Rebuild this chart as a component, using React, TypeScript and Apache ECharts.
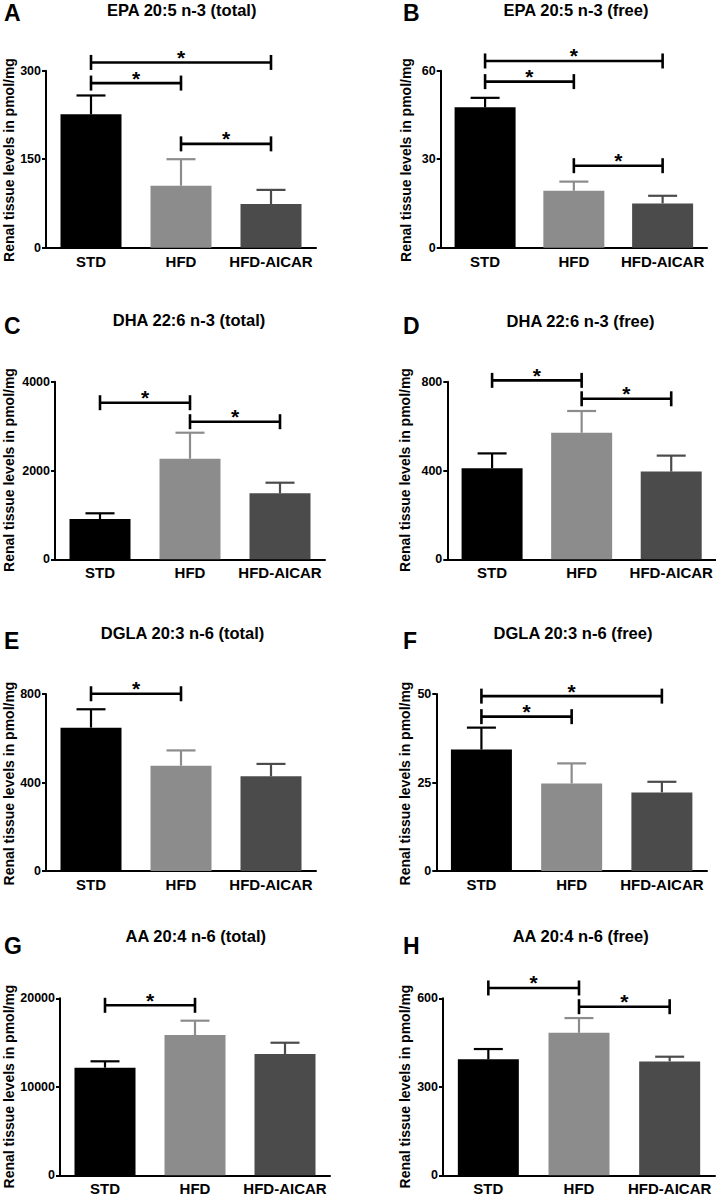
import React, { useEffect, useRef } from 'react';
import * as echarts from 'echarts';

const FONT = '"Liberation Sans", Arial, Helvetica, sans-serif';

const categories = ['STD', 'HFD', 'HFD-AICAR'];
const barColors = ['#000000', '#8c8c8c', '#4b4b4b'];

const panelLetters = ['A', 'B', 'C', 'D', 'E', 'F', 'G', 'H'];
const panelTitles = [
  'EPA 20:5 n-3 (total)',
  'EPA 20:5 n-3 (free)',
  'DHA 22:6 n-3 (total)',
  'DHA 22:6 n-3 (free)',
  'DGLA 20:3 n-6 (total)',
  'DGLA 20:3 n-6 (free)',
  'AA 20:4 n-6 (total)',
  'AA 20:4 n-6 (free)',
];
const yAxisName = 'Renal tissue levels in pmol/mg';
const yMaxes = [300, 60, 4000, 800, 800, 50, 20000, 600];
const yIntervals = [150, 30, 2000, 400, 400, 25, 10000, 300];

// means and upper error (SEM) per group: STD, HFD, HFD-AICAR
const epaTotalMean = [226, 105, 74];
const epaTotalErr = [32, 45, 24];
const epaFreeMean = [47.6, 19.3, 15.0];
const epaFreeErr = [3.2, 3.1, 2.6];
const dhaTotalMean = [908, 2266, 1486];
const dhaTotalErr = [128, 585, 239];
const dhaFreeMean = [410, 570, 395];
const dhaFreeErr = [67, 98, 72];
const dglaTotalMean = [648, 476, 428];
const dglaTotalErr = [83, 69, 56];
const dglaFreeMean = [34.3, 24.7, 22.2];
const dglaFreeErr = [6.2, 5.7, 3.0];
const aaTotalMean = [12160, 15850, 13710];
const aaTotalErr = [720, 1620, 1270];
const aaFreeMean = [393, 483, 386];
const aaFreeErr = [35, 50, 16];

// significance brackets: [fromIndex, toIndex, yValue]
const epaTotalSig = [[0, 2, 314], [0, 1, 279], [1, 2, 176]];
const epaFreeSig = [[0, 2, 63.3], [0, 1, 56.3], [1, 2, 27.8]];
const dhaTotalSig = [[0, 1, 3527], [1, 2, 3099]];
const dhaFreeSig = [[0, 1, 806], [1, 2, 723]];
const dglaTotalSig = [[0, 1, 801]];
const dglaFreeSig = [[0, 2, 49.4], [0, 1, 43.6]];
const aaTotalSig = [[0, 1, 19209]];
const aaFreeSig = [[0, 1, 635], [1, 2, 571.5]];

const means = [epaTotalMean, epaFreeMean, dhaTotalMean, dhaFreeMean, dglaTotalMean, dglaFreeMean, aaTotalMean, aaFreeMean];
const errs = [epaTotalErr, epaFreeErr, dhaTotalErr, dhaFreeErr, dglaTotalErr, dglaFreeErr, aaTotalErr, aaFreeErr];
const sigs = [epaTotalSig, epaFreeSig, dhaTotalSig, dhaFreeSig, dglaTotalSig, dglaFreeSig, aaTotalSig, aaFreeSig];

// layout (pixels)
const layout = [
  { left: 46, top: 70.7, width: 270, height: 177, tx: 181.7, ty: 9.7, lx: 4, ly: 12.5, nx: 9, ny: 160 },
  { left: 440.7, top: 70.7, width: 266.3, height: 177, tx: 576, ty: 9.7, lx: 403, ly: 12.5, nx: 405.5, ny: 160 },
  { left: 55, top: 381.7, width: 270, height: 177.6, tx: 189, ty: 320, lx: 4, ly: 326, nx: 9, ny: 470 },
  { left: 447.3, top: 381.7, width: 268.7, height: 177.6, tx: 580.5, ty: 320.7, lx: 403, ly: 326, nx: 405, ny: 470 },
  { left: 46, top: 694, width: 270, height: 177, tx: 182.5, ty: 632.5, lx: 4, ly: 641, nx: 9, ny: 783.5 },
  { left: 436.3, top: 694, width: 270.7, height: 177, tx: 573, ty: 632.5, lx: 403, ly: 641, nx: 404.7, ny: 783.5 },
  { left: 60, top: 998.3, width: 270, height: 177, tx: 195.8, ty: 935.8, lx: 4, ly: 946, nx: 9, ny: 1086.5 },
  { left: 443, top: 998.3, width: 272, height: 177, tx: 580.7, ty: 935.8, lx: 403, ly: 946, nx: 405, ny: 1086.5 },
];

function buildOption() {
  const grid: any[] = [];
  const xAxis: any[] = [];
  const yAxis: any[] = [];
  const series: any[] = [];
  const graphic: any[] = [];

  layout.forEach((l, i) => {
    grid.push({ left: l.left, top: l.top, width: l.width, height: l.height });
    xAxis.push({
      gridIndex: i,
      type: 'category',
      data: categories,
      axisLine: { lineStyle: { color: '#000', width: 2 } },
      axisTick: { alignWithLabel: true, length: 4, lineStyle: { color: '#000', width: 2 } },
      axisLabel: {
        color: '#000',
        fontWeight: 'bold',
        fontSize: 15,
        fontFamily: FONT,
        margin: 6,
        interval: 0,
        hideOverlap: false,
      },
    });
    yAxis.push({
      gridIndex: i,
      type: 'value',
      min: 0,
      max: yMaxes[i],
      interval: yIntervals[i],
      axisLine: { show: true, lineStyle: { color: '#000', width: 2 } },
      axisTick: { show: true, length: 4, lineStyle: { color: '#000', width: 2 } },
      splitLine: { show: false },
      axisLabel: {
        color: '#000',
        fontWeight: 'bold',
        fontSize: 12.5,
        fontFamily: FONT,
        margin: 5,
        formatter: (v: number) => String(v),
      },
    });
    series.push({
      type: 'bar',
      xAxisIndex: i,
      yAxisIndex: i,
      barWidth: 61,
      data: means[i].map((v, j) => ({ value: v, itemStyle: { color: barColors[j] } })),
      z: 2,
    });
    series.push({
      type: 'custom',
      xAxisIndex: i,
      yAxisIndex: i,
      z: 3,
      data: means[i].map((v, j) => [j, v, errs[i][j]]),
      renderItem: (params: any, api: any) => {
        const idx = api.value(0);
        const m = api.value(1);
        const e = api.value(2);
        const p0 = api.coord([idx, m]);
        const p1 = api.coord([idx, m + e]);
        const color = barColors[params.dataIndex];
        return {
          type: 'group',
          children: [
            { type: 'line', shape: { x1: p0[0], y1: p0[1], x2: p1[0], y2: p1[1] }, style: { stroke: color, lineWidth: 2.2 } },
            { type: 'line', shape: { x1: p1[0] - 14.5, y1: p1[1], x2: p1[0] + 14.5, y2: p1[1] }, style: { stroke: color, lineWidth: 2.2 } },
          ],
        };
      },
    });
    series.push({
      type: 'custom',
      xAxisIndex: i,
      yAxisIndex: i,
      z: 4,
      encode: { x: 0, y: 2 },
      data: sigs[i],
      renderItem: (params: any, api: any) => {
        const a = api.coord([api.value(0), api.value(2)]);
        const b = api.coord([api.value(1), api.value(2)]);
        const st = { stroke: '#000', lineWidth: 2.6 };
        return {
          type: 'group',
          children: [
            { type: 'line', shape: { x1: a[0], y1: a[1], x2: b[0], y2: b[1] }, style: st },
            { type: 'line', shape: { x1: a[0], y1: a[1] - 7.5, x2: a[0], y2: a[1] + 7.5 }, style: st },
            { type: 'line', shape: { x1: b[0], y1: b[1] - 7.5, x2: b[0], y2: b[1] + 7.5 }, style: st },
            {
              type: 'text',
              x: (a[0] + b[0]) / 2,
              y: a[1] - 5,
              style: {
                text: '*',
                textAlign: 'center',
                textVerticalAlign: 'middle',
                fontSize: 21,
                fontWeight: 'bold',
                fontFamily: FONT,
                fill: '#000',
              },
            },
          ],
        };
      },
    });

    graphic.push({
      type: 'text',
      x: l.tx,
      y: l.ty,
      style: { text: panelTitles[i], textAlign: 'center', textVerticalAlign: 'middle', fontSize: 16.5, fontWeight: 'bold', fontFamily: FONT, fill: '#000' },
    });
    graphic.push({
      type: 'text',
      x: l.lx,
      y: l.ly,
      style: { text: panelLetters[i], textAlign: 'left', textVerticalAlign: 'middle', fontSize: 23, fontWeight: 'bold', fontFamily: FONT, fill: '#000' },
    });
    graphic.push({
      type: 'text',
      x: l.nx,
      y: l.ny,
      rotation: Math.PI / 2,
      style: { text: yAxisName, textAlign: 'center', textVerticalAlign: 'middle', fontSize: 14, fontWeight: 'bold', fontFamily: FONT, fill: '#000' },
    });
  });

  return {
    animation: false,
    backgroundColor: '#ffffff',
    grid,
    xAxis,
    yAxis,
    series,
    graphic,
  };
}

export default function App() {
  const ref = useRef<HTMLDivElement>(null);
  useEffect(() => {
    document.body.style.margin = '0';
    if (!ref.current) return;
    const chart = echarts.init(ref.current, undefined, { renderer: 'svg' });
    chart.setOption(buildOption() as any);
    return () => chart.dispose();
  }, []);
  return <div ref={ref} style={{ width: 716, height: 1197, position: 'absolute', left: 0, top: 0 }} />;
}
